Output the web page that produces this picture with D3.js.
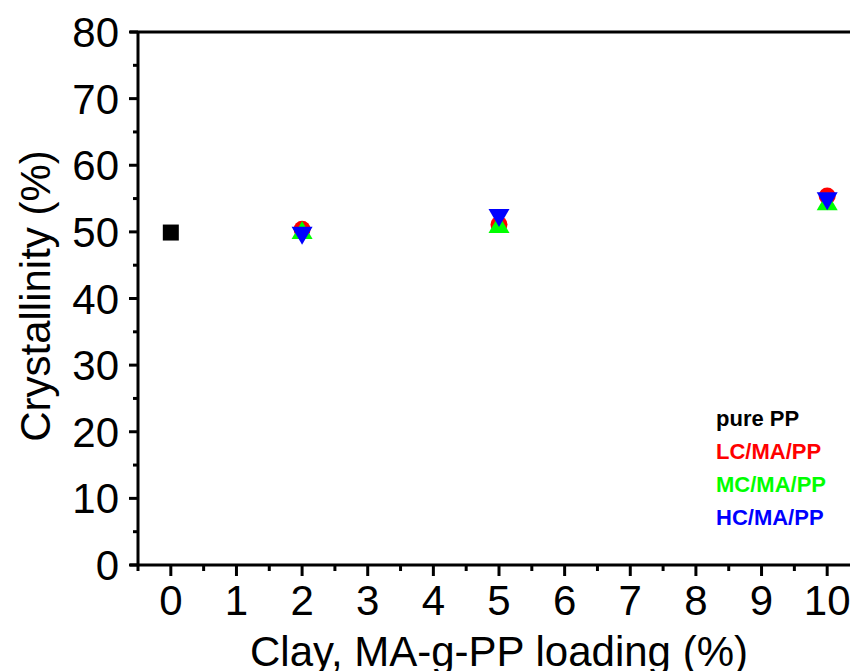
<!DOCTYPE html>
<html>
<head>
<meta charset="utf-8">
<script src="https://cdn.jsdelivr.net/npm/d3@7"></script>
<style>
  body { margin: 0; background: #fff; }
  svg { display: block; }
</style>
</head>
<body>
<div class="main"></div>
<script>
  // data
  let loadings = [0, 2, 5, 10];
  let xTicks = [0, 1, 2, 3, 4, 5, 6, 7, 8, 9, 10];
  let yTicks = [0, 10, 20, 30, 40, 50, 60, 70, 80];
  let purePP = [{x: 0, y: 49.9}];
  let lcMaPP = [{x: 2, y: 50.4}, {x: 5, y: 51.1}, {x: 10, y: 55.4}];
  let mcMaPP = [{x: 2, y: 50.3}, {x: 5, y: 51.2}, {x: 10, y: 54.6}];
  let hcMaPP = [{x: 2, y: 49.4}, {x: 5, y: 52.1}, {x: 10, y: 54.6}];
  let legendNames = ["pure PP", "LC/MA/PP", "MC/MA/PP", "HC/MA/PP"];
  let legendColors = ["#000000", "#ff0000", "#00ff00", "#0000ff"];

  let width = 850,
      height = 671;

  let svg = d3.select("div.main").append("svg")
    .attr("width", width)
    .attr("height", height)
    .style("overflow", "hidden")
    .style("font-family", "'Liberation Sans', Arial, sans-serif");

  let x = d3.scaleLinear().domain([-0.5, 10.5]).range([138, 860]);
  let y = d3.scaleLinear().domain([0, 80]).range([565, 32]);

  // minor ticks at the half steps
  let xMinor = d3.range(-0.5, 10.6, 1);
  let yMinor = d3.range(5, 80, 10);

  // x axis (bottom)
  let xAxis = svg.append("g").attr("transform", "translate(0," + y(0) + ")");
  xAxis.append("line")
    .attr("x1", 130).attr("x2", 860)
    .attr("stroke", "#000").attr("stroke-width", 3);
  xAxis.selectAll("line.major").data(xTicks).enter().append("line")
    .attr("class", "major")
    .attr("x1", d => x(d)).attr("x2", d => x(d))
    .attr("y1", 0).attr("y2", 11)
    .attr("stroke", "#000").attr("stroke-width", 3);
  xAxis.selectAll("line.minor").data(xMinor).enter().append("line")
    .attr("class", "minor")
    .attr("x1", d => x(d)).attr("x2", d => x(d))
    .attr("y1", 0).attr("y2", 6)
    .attr("stroke", "#000").attr("stroke-width", 3);
  xAxis.selectAll("text").data(xTicks).enter().append("text")
    .attr("x", d => x(d))
    .attr("y", 50)
    .attr("text-anchor", "middle")
    .attr("font-size", "42px")
    .text(d => d);

  // y axis (left)
  let yAxis = svg.append("g").attr("transform", "translate(" + x(-0.5) + ",0)");
  yAxis.append("line")
    .attr("y1", y(0)).attr("y2", y(80))
    .attr("stroke", "#000").attr("stroke-width", 3);
  yAxis.selectAll("line.major").data(yTicks).enter().append("line")
    .attr("class", "major")
    .attr("x1", -9).attr("x2", 0)
    .attr("y1", d => y(d)).attr("y2", d => y(d))
    .attr("stroke", "#000").attr("stroke-width", 3);
  yAxis.selectAll("line.minor").data(yMinor).enter().append("line")
    .attr("class", "minor")
    .attr("x1", -5).attr("x2", 0)
    .attr("y1", d => y(d)).attr("y2", d => y(d))
    .attr("stroke", "#000").attr("stroke-width", 3);
  yAxis.selectAll("text").data(yTicks).enter().append("text")
    .attr("x", -19)
    .attr("y", d => y(d) + 15)
    .attr("text-anchor", "end")
    .attr("font-size", "42px")
    .text(d => d);

  // top frame
  svg.append("line")
    .attr("x1", 130).attr("x2", 860)
    .attr("y1", y(80)).attr("y2", y(80))
    .attr("stroke", "#000").attr("stroke-width", 3);

  // axis titles
  svg.append("text")
    .attr("x", 499)
    .attr("y", 666)
    .attr("text-anchor", "middle")
    .attr("font-size", "42px")
    .text("Clay, MA-g-PP loading (%)");

  svg.append("text")
    .attr("transform", "translate(50,296)rotate(-90)")
    .attr("text-anchor", "middle")
    .attr("font-size", "42px")
    .text("Crystallinity (%)");

  // markers
  let tri = 10.5, triH = 9;
  let upPath = "M" + (-tri) + "," + triH + " L" + tri + "," + triH + " L0," + (-triH) + " Z";
  let downPath = "M" + (-tri) + "," + (-triH) + " L" + tri + "," + (-triH) + " L0," + triH + " Z";

  svg.selectAll("rect.pure").data(purePP).enter().append("rect")
    .attr("class", "pure")
    .attr("x", d => x(d.x) - 8).attr("y", d => y(d.y) - 8)
    .attr("width", 16).attr("height", 16)
    .attr("fill", legendColors[0]);

  svg.selectAll("circle.lc").data(lcMaPP).enter().append("circle")
    .attr("class", "lc")
    .attr("cx", d => x(d.x)).attr("cy", d => y(d.y))
    .attr("r", 8.5)
    .attr("fill", legendColors[1]);

  svg.selectAll("path.mc").data(mcMaPP).enter().append("path")
    .attr("class", "mc")
    .attr("d", upPath)
    .attr("transform", d => "translate(" + x(d.x) + "," + y(d.y) + ")")
    .attr("fill", legendColors[2]);

  svg.selectAll("path.hc").data(hcMaPP).enter().append("path")
    .attr("class", "hc")
    .attr("d", downPath)
    .attr("transform", d => "translate(" + x(d.x) + "," + y(d.y) + ")")
    .attr("fill", legendColors[3]);

  // legend (text only, coloured)
  svg.selectAll("text.legend").data(legendNames).enter().append("text")
    .attr("class", "legend")
    .attr("x", 716)
    .attr("y", (d, i) => 426 + i * 33)
    .attr("font-size", "22px")
    .attr("font-weight", "bold")
    .attr("fill", (d, i) => legendColors[i])
    .text(d => d);
</script>
</body>
</html>
